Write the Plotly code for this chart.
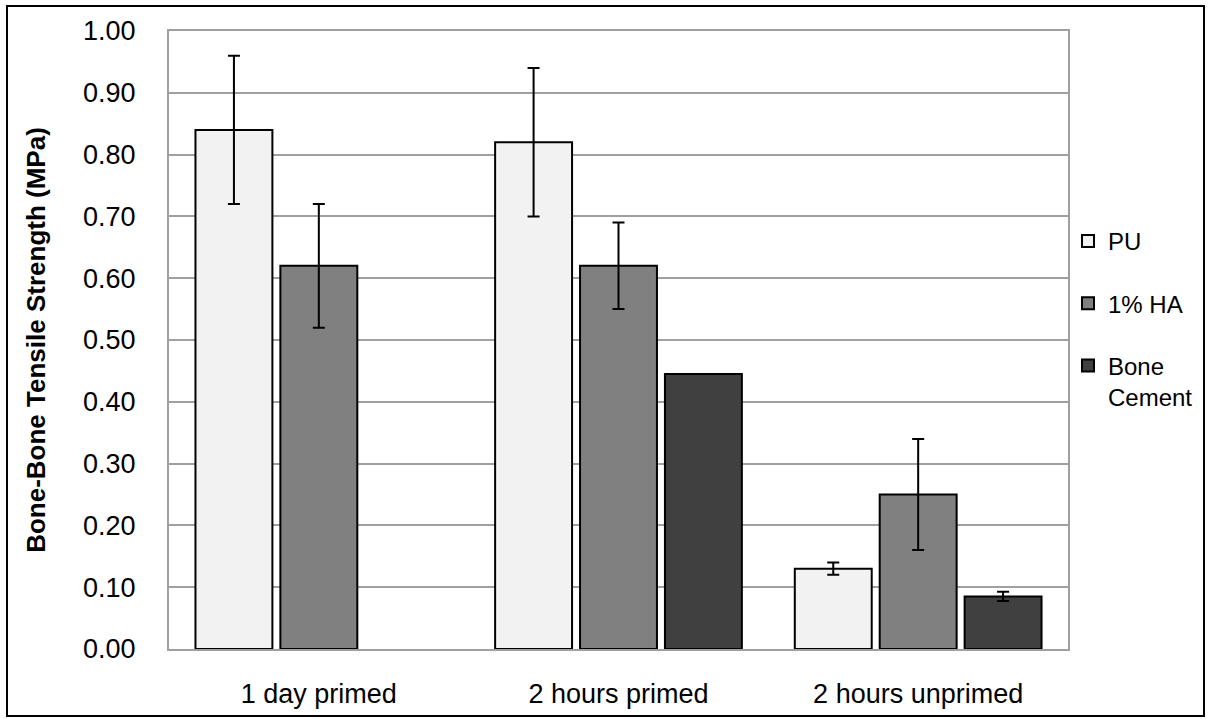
import plotly.graph_objects as go

categories = ["1 day primed", "2 hours primed", "2 hours unprimed"]
pu = [0.84, 0.82, 0.13]
pu_err = [0.12, 0.12, 0.01]
ha = [0.62, 0.62, 0.25]
ha_err = [0.10, 0.07, 0.09]
bc = [None, 0.445, 0.085]
bc_err = [None, 0.0, 0.0075]
series_names = ["PU", "1% HA", "Bone<br>Cement"]
colors = ["#f2f2f2", "#808080", "#404040"]

fig = go.Figure()
for name, vals, errs, col in zip(series_names, [pu, ha, bc], [pu_err, ha_err, bc_err], colors):
    fig.add_trace(go.Bar(
        x=categories, y=vals, name=name,
        marker=dict(color=col, line=dict(color="black", width=2)),
        error_y=dict(type="data", array=errs, visible=True, color="black", thickness=2, width=6),
        legendgroup=name,
    ))

L, R, T, B = 169, 1068, 31, 649
W, H = 1208, 719
pw, ph = R - L, B - T

fig.update_layout(
    width=W, height=H,
    margin=dict(l=L, r=W - R, t=T, b=H - B, autoexpand=False),
    paper_bgcolor="white", plot_bgcolor="white",
    barmode="group", bargap=0.15, bargroupgap=0.094,
    font=dict(family="Liberation Sans, Arial", size=24, color="black"),
    showlegend=True,
    legend=dict(x=(1068 - L) / pw, xanchor="left", y=(B - 219) / ph, yanchor="top",
                font=dict(size=24), tracegroupgap=28, itemwidth=30, valign="top",
                bgcolor="rgba(0,0,0,0)"),
    xaxis=dict(showline=True, linecolor="#a0a0a0", linewidth=2, mirror=True,
               ticks="", tickfont=dict(size=27), ticklabelstandoff=20),
    yaxis=dict(range=[0, 1.0], dtick=0.1, tickformat=".2f", showgrid=True,
               gridcolor="#a0a0a0", gridwidth=2, showline=True, linecolor="#a0a0a0",
               linewidth=2, mirror=True, ticks="", ticklen=0, tickfont=dict(size=27),
               ticklabelstandoff=26,
               title=dict(text="<b>Bone-Bone Tensile Strength (MPa)</b>", font=dict(size=26), standoff=30),
               zeroline=False),
    shapes=[dict(type="rect", xref="paper", yref="paper",
                 x0=(7 - L) / pw, x1=(1204 - L) / pw,
                 y0=(B - 716) / ph, y1=(B - 6) / ph,
                 line=dict(color="black", width=2), fillcolor="rgba(0,0,0,0)", layer="below")],
)

fig.write_html("out.html")
